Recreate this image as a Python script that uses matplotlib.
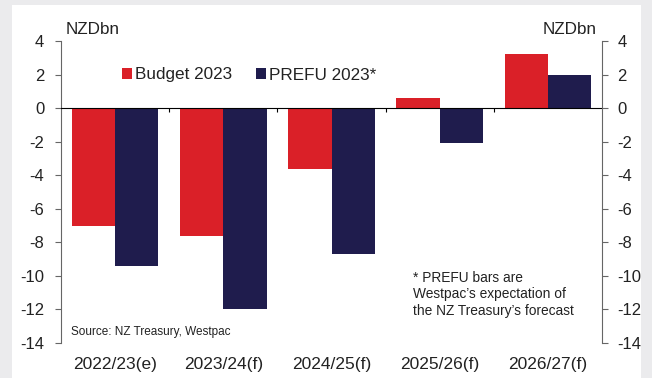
import numpy as np
import matplotlib
matplotlib.use("Agg")
import matplotlib.pyplot as plt
from matplotlib.patches import Rectangle
from matplotlib.ticker import FuncFormatter

plt.rcParams["font.family"] = ["Liberation Sans", "DejaVu Sans"]

years = ["2022/23(e)", "2023/24(f)", "2024/25(f)", "2025/26(f)", "2026/27(f)"]
budget_2023 = [-7.0, -7.6, -3.6, 0.6, 3.2]
prefu_2023 = [-9.4, -12.0, -8.7, -2.1, 2.0]
y_ticks = [4, 2, 0, -2, -4, -6, -8, -10, -12, -14]

RED = "#da2028"
NAVY = "#1f1c4d"
BG = "#ebebed"
INK = "#222222"
SPINE = "#666666"

W, H = 652, 378
fig = plt.figure(figsize=(W / 100, H / 100), dpi=100, facecolor=BG)
# white panel behind everything
fig.patches.append(Rectangle((12 / W, 0), (641 - 12) / W, 1 - 5 / H,
                             transform=fig.transFigure, facecolor="white",
                             edgecolor="none", zorder=-10))

ax = fig.add_axes([61 / W, 1 - 343 / H, (602 - 61) / W, (343 - 41) / H])
ax.set_facecolor("none")

x = np.arange(len(years))
w = 0.4
ax.bar(x - w / 2, budget_2023, w, color=RED, label="Budget 2023", zorder=2)
ax.bar(x + w / 2, prefu_2023, w, color=NAVY, label="PREFU 2023*", zorder=2)

ax.set_xlim(-0.5, len(years) - 0.5)
ax.set_ylim(-14, 4)

# zero line carries small ticks between categories
ax.spines["bottom"].set_position(("data", 0))
ax.spines["bottom"].set_color("black")
ax.spines["bottom"].set_zorder(3)
ax.spines["top"].set_visible(False)
ax.spines["right"].set_visible(False)
ax.spines["left"].set_color(SPINE)
ax.set_xticks(x[:-1] + 0.5)
ax.tick_params(axis="x", direction="out", length=3, color="black", labelbottom=False)

fmt = FuncFormatter(lambda v, p: f"{v:g}" if v >= 0 else f"-{abs(v):g}")
ax.set_yticks(y_ticks)
ax.yaxis.set_major_formatter(fmt)
ax.tick_params(axis="y", direction="out", length=4, color=SPINE, pad=8,
               labelsize=12, labelcolor=INK)

# category labels under the plot
sec = ax.secondary_xaxis("bottom")
sec.set_xticks(x, years)
sec.tick_params(length=0, pad=10, labelsize=12.5, labelcolor=INK)
sec.spines["bottom"].set_visible(False)

# right axis mirror
ax2 = ax.twinx()
ax2.set_ylim(ax.get_ylim())
ax2.set_yticks(y_ticks)
ax2.yaxis.set_major_formatter(fmt)
for s in ["top", "bottom", "left"]:
    ax2.spines[s].set_visible(False)
ax2.spines["right"].set_color(SPINE)
ax2.tick_params(axis="y", direction="out", length=4, color=SPINE, pad=7,
                labelsize=12, labelcolor=INK)

fig.text(66 / W, 1 - 29 / H, "NZDbn", fontsize=12.3, color=INK, va="center", ha="left")
fig.text(597 / W, 1 - 29 / H, "NZDbn", fontsize=12.3, color=INK, va="center", ha="right")

ax.legend(loc="center left", bbox_to_anchor=(122 / W, 1 - 75 / H),
          bbox_transform=fig.transFigure, ncol=2, frameon=False,
          fontsize=12.3, handlelength=0.59, handleheight=0.59,
          handletextpad=0.18, columnspacing=1.4, borderpad=0, borderaxespad=0,
          labelcolor=INK)

fig.text(71 / W, 1 - 332 / H, "Source: NZ Treasury, Westpac", fontsize=8.5,
         color=INK, va="center", ha="left")
fig.text(413 / W, 1 - 271 / H,
         "* PREFU bars are\nWestpac\u2019s expectation of\nthe NZ Treasury\u2019s forecast",
         fontsize=9.9, color=INK, va="top", ha="left", linespacing=1.22)

fig.savefig("out.png", dpi=100, facecolor=BG)
